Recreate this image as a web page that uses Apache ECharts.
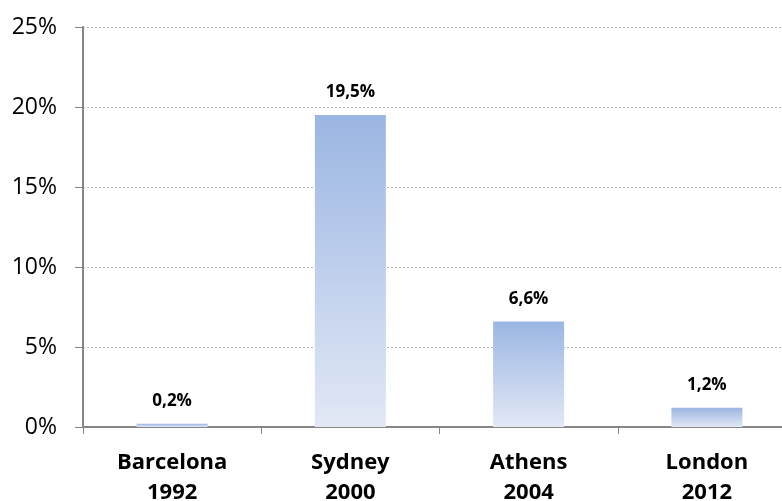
<!DOCTYPE html>
<html>
<head>
<meta charset="utf-8">
<script src="https://cdn.jsdelivr.net/npm/echarts@6/dist/echarts.min.js"></script>
<style>
  html, body { margin: 0; padding: 0; background: #fff; }
  #chart { width: 782px; height: 501px; }
</style>
</head>
<body>
<div id="chart"></div>
<script>
// Olympic host cities and their share values (%)
const cities = ['Barcelona', 'Sydney', 'Athens', 'London'];
const years = ['1992', '2000', '2004', '2012'];
const shares = [0.2, 19.5, 6.6, 1.2];
const yTicks = [0, 5, 10, 15, 20, 25];

const FONT = '"Open Sans", "Liberation Sans", sans-serif';
const categories = cities.map((c, i) => c + '\n' + years[i]);
const fmtPct = v => v.toFixed(1).replace('.', ',') + '%';

const chart = echarts.init(document.getElementById('chart'), null, { renderer: 'canvas' });
chart.setOption({
  animation: false,
  backgroundColor: '#ffffff',
  // the last category band runs past the right edge, so the grid is not kept inside the canvas
  grid: { left: 83, right: -14, top: 27, bottom: 74, containLabel: false, outerBoundsMode: 'none' },
  xAxis: {
    type: 'category',
    data: categories,
    axisLine: { show: true, lineStyle: { color: '#868686', width: 2 } },
    axisTick: { show: true, alignWithLabel: false, length: 7, lineStyle: { color: '#868686', width: 1 } },
    axisLabel: {
      margin: 21,
      color: '#000',
      fontFamily: FONT,
      fontWeight: 'bold',
      fontSize: 22,
      lineHeight: 30
    },
    splitLine: { show: false }
  },
  yAxis: {
    type: 'value',
    min: yTicks[0],
    max: yTicks[yTicks.length - 1],
    interval: 5,
    axisLine: { show: true, lineStyle: { color: '#868686', width: 2 } },
    axisTick: { show: true, inside: false, length: 8, lineStyle: { color: '#868686', width: 1 } },
    axisLabel: {
      margin: 26,
      color: '#000',
      fontFamily: FONT,
      fontSize: 23,
      formatter: v => v + '%'
    },
    splitLine: { show: true, lineStyle: { color: '#b4b4b4', type: [2, 2], width: 1 } }
  },
  series: [{
    type: 'bar',
    data: shares,
    barWidth: 71,
    itemStyle: {
      color: new echarts.graphic.LinearGradient(0, 0, 0, 1, [
        { offset: 0, color: '#9bb6e3' },
        { offset: 1, color: '#e2e8f5' }
      ])
    },
    label: {
      show: true,
      position: 'top',
      distance: 14,
      color: '#000',
      fontFamily: FONT,
      fontWeight: 'bold',
      fontSize: 17,
      formatter: p => fmtPct(p.value)
    }
  }]
});
</script>
</body>
</html>
